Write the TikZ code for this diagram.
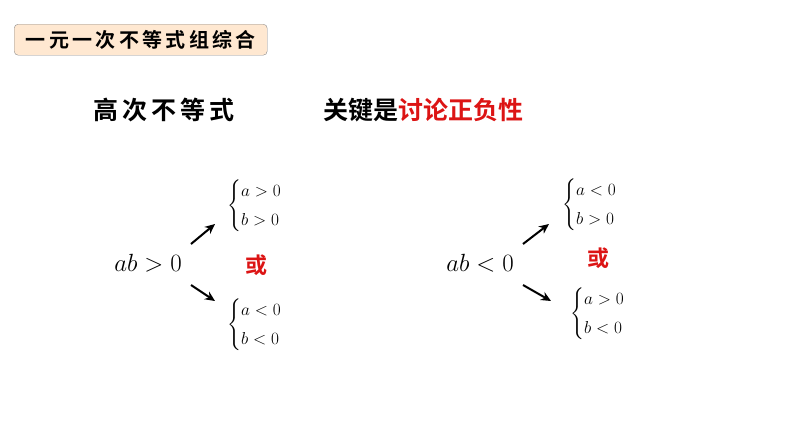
\documentclass[tikz,border=0pt]{standalone}
\usepackage{amsmath}
\usepackage{fontspec}
\usetikzlibrary{arrows.meta}
\newfontfamily\cjk{Noto Sans CJK SC}[BoldFont={* Bold}]
\definecolor{myred}{RGB}{220,20,20}
\begin{document}
\begin{tikzpicture}[x=1pt,y=-1pt,
  sys/.style={font=\fontsize{18}{22}\selectfont,inner sep=0pt,anchor=west},
  arr/.style={-{Stealth[length=10pt,width=9pt]},line width=2pt},
  big/.style={font=\fontsize{28}{32}\selectfont,inner sep=0pt}]
\useasboundingbox (0,0) rectangle (794,447);
\node[draw=black!45,fill=orange!18,rounded corners=4pt,minimum width=253pt,minimum height=31pt,anchor=north west,font=\cjk\bfseries\fontsize{20}{22}\selectfont] (t) at (14,24) {一\,元\,一\,次\,不\,等\,式\,组\,综\,合};
\node[font=\cjk\bfseries\fontsize{25}{28}\selectfont,anchor=west,inner sep=0pt] (h1) at (93,110) {高\,次\,不\,等\,式};
\node[font=\cjk\bfseries\fontsize{25}{28}\selectfont,anchor=west,inner sep=0pt] (h2) at (323,110) {关键是\textcolor{myred}{讨论正负性}};
% left
\node[big] (L) at (148,263) {$ab>0$};
\coordinate (L1) at (215,224); \coordinate (L2) at (215,301);
\draw[arr] (191,244) -- (L1);
\draw[arr] (191,285) -- (L2);
\node[sys] (s1) at (227,206) {$\begin{cases}a>0\\[3pt] b>0\end{cases}$};
\node[sys] (s2) at (227,325) {$\begin{cases}a<0\\[3pt] b<0\end{cases}$};
\node[font=\cjk\bfseries\fontsize{22}{24}\selectfont,text=myred] (o1) at (256,265) {或};
% right
\node[big] (R) at (480,263) {$ab<0$};
\coordinate (R1) at (549,224); \coordinate (R2) at (551,301);
\draw[arr] (523,244) -- (R1);
\draw[arr] (523,285) -- (R2);
\node[sys] (s3) at (562,205) {$\begin{cases}a<0\\[3pt] b>0\end{cases}$};
\node[sys] (s4) at (570,314) {$\begin{cases}a>0\\[3pt] b<0\end{cases}$};
\node[font=\cjk\bfseries\fontsize{22}{24}\selectfont,text=myred] (o2) at (598,258) {或};
\end{tikzpicture}
\end{document}
